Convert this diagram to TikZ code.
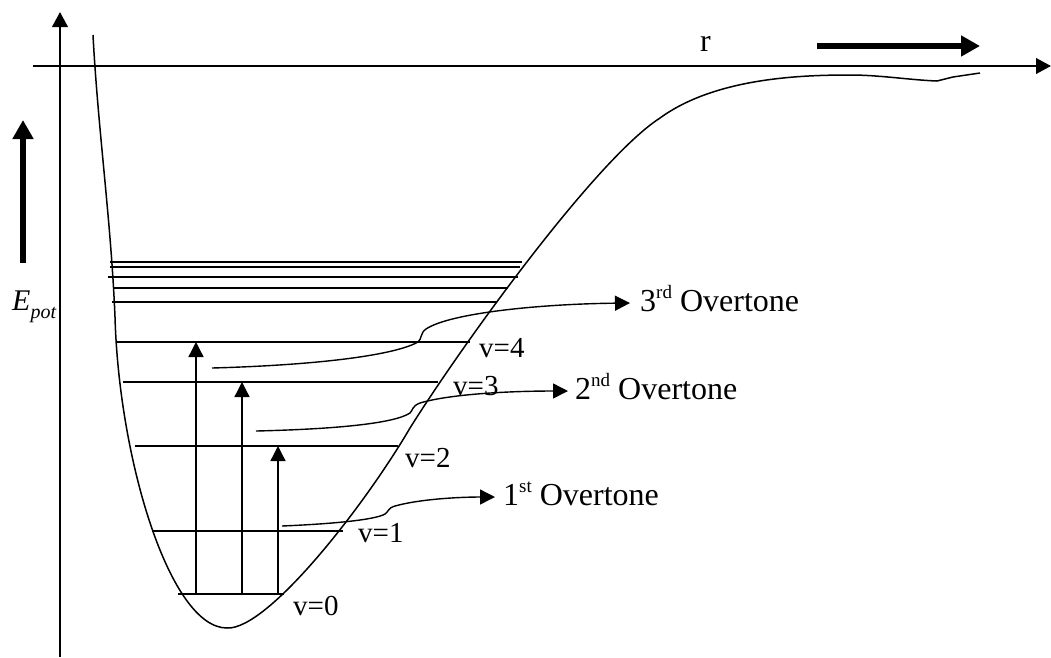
\documentclass[tikz,border=0pt]{standalone}
\usepackage{fontspec}
\setmainfont{Liberation Serif}
\usetikzlibrary{arrows.meta}
\newcommand\myup[1]{\raisebox{13pt}{\fontsize{19}{19}\selectfont #1}}
\tikzset{
  axis/.style={line width=2.3pt},
  axisarr/.style={axis,-{Triangle[length=15pt,width=15.5pt]}},
  curve/.style={line width=1.5pt},
  level/.style={line width=1.4pt},
  conn/.style={line width=1.4pt,-{Triangle[length=15pt,width=15pt]}},
  bigarr/.style={line width=6.5pt,-{Triangle[length=19pt,width=20pt]}},
  lab/.style={anchor=base west,inner sep=0pt,font=\fontsize{32}{32}\selectfont},
  vlab/.style={anchor=base west,inner sep=0pt,font=\fontsize{29}{29}\selectfont}
}
\begin{document}
\begin{tikzpicture}[x=1pt,y=-1pt]
\useasboundingbox (0,0) rectangle (1051,657);
% axes
\coordinate (yb) at (60,657); \coordinate (yt) at (60,12);
\coordinate (xl) at (33,66);  \coordinate (xr) at (1051,66);
\draw[axisarr] (yb) -- (yt);
\draw[axisarr] (xl) -- (xr);
% big arrows
\coordinate (rb) at (817,46); \coordinate (re) at (980,46);
\coordinate (eb) at (23,263); \coordinate (ee) at (23,120);
\draw[bigarr] (rb) -- (re);
\draw[bigarr] (eb) -- (ee);
% labels of axes
\node[lab] (r) at (700,51) {r};
\node[anchor=base west,inner sep=0pt,font=\fontsize{30}{30}\selectfont\itshape] (E) at (12,310)
  {E\raisebox{-8pt}{\fontsize{20}{20}\selectfont pot}};
% potential curve
\draw[curve] (93,35) .. controls (98,130) and (111,220) .. (115,317)
  .. controls (119,460) and (170,628) .. (227,628)
  .. controls (268,630) and (365,505) .. (410,428)
  .. controls (460,348) and (595,160) .. (660,118)
  .. controls (715,78) and (800,75) .. (850,75)
  .. controls (880,75) and (910,80) .. (937,81)
  -- (953,77) -- (980,73);
% vibrational levels
\draw[level] (178,594) -- (284,594);
\draw[level] (152,531) -- (343,531);
\draw[level] (135,446) -- (398,446);
\draw[level] (123,382) -- (438,382);
\draw[level] (116,342) -- (470,342);
\draw[level] (112,302) -- (497,302);
\draw[level] (113,288) -- (508,288);
\draw[level] (108,277) -- (518,277);
\draw[level] (110,267) -- (520,267);
\draw[level] (110,262) -- (522,262);
% level labels
\node[vlab] (v0) at (293,615) {v=0};
\node[vlab] (v1) at (358,542) {v=1};
\node[vlab] (v2) at (405,467) {v=2};
\node[vlab] (v3) at (453,395) {v=3};
\node[vlab] (v4) at (479,357) {v=4};
% transitions
\coordinate (t3b) at (196,594); \coordinate (t3t) at (196,342);
\coordinate (t2b) at (242,594); \coordinate (t2t) at (242,382);
\coordinate (t1b) at (278,594); \coordinate (t1t) at (278,446);
\draw[conn] (t3b) -- (t3t);
\draw[conn] (t2b) -- (t2t);
\draw[conn] (t1b) -- (t1t);
% overtone labels
\node[lab] (o3) at (640,311) {3\myup{rd} Overtone};
\node[lab] (o2) at (575,399) {2\myup{nd} Overtone};
\node[lab] (o1) at (503,505) {1\myup{st} Overtone};
\coordinate (s3) at (212,368); \coordinate (e3) at (630,303);
\coordinate (s2) at (256,431); \coordinate (e2) at (568,391);
\coordinate (s1) at (282,526); \coordinate (e1) at (495,497);
\draw[conn] (s3) .. controls (320,365) and (395,355) .. (418,342)
  .. controls (422,339) and (420,333) .. (426,329)
  .. controls (450,313) and (540,304) .. (e3);
\draw[conn] (s2) .. controls (340,429) and (395,423) .. (410,413)
  .. controls (413,410) and (412,406) .. (420,403)
  .. controls (450,394) and (510,391) .. (e2);
\draw[conn] (s1) .. controls (330,524) and (375,520) .. (385,514)
  .. controls (389,511) and (388,508) .. (395,506)
  .. controls (420,499) and (460,497) .. (e1);
\end{tikzpicture}
\end{document}
